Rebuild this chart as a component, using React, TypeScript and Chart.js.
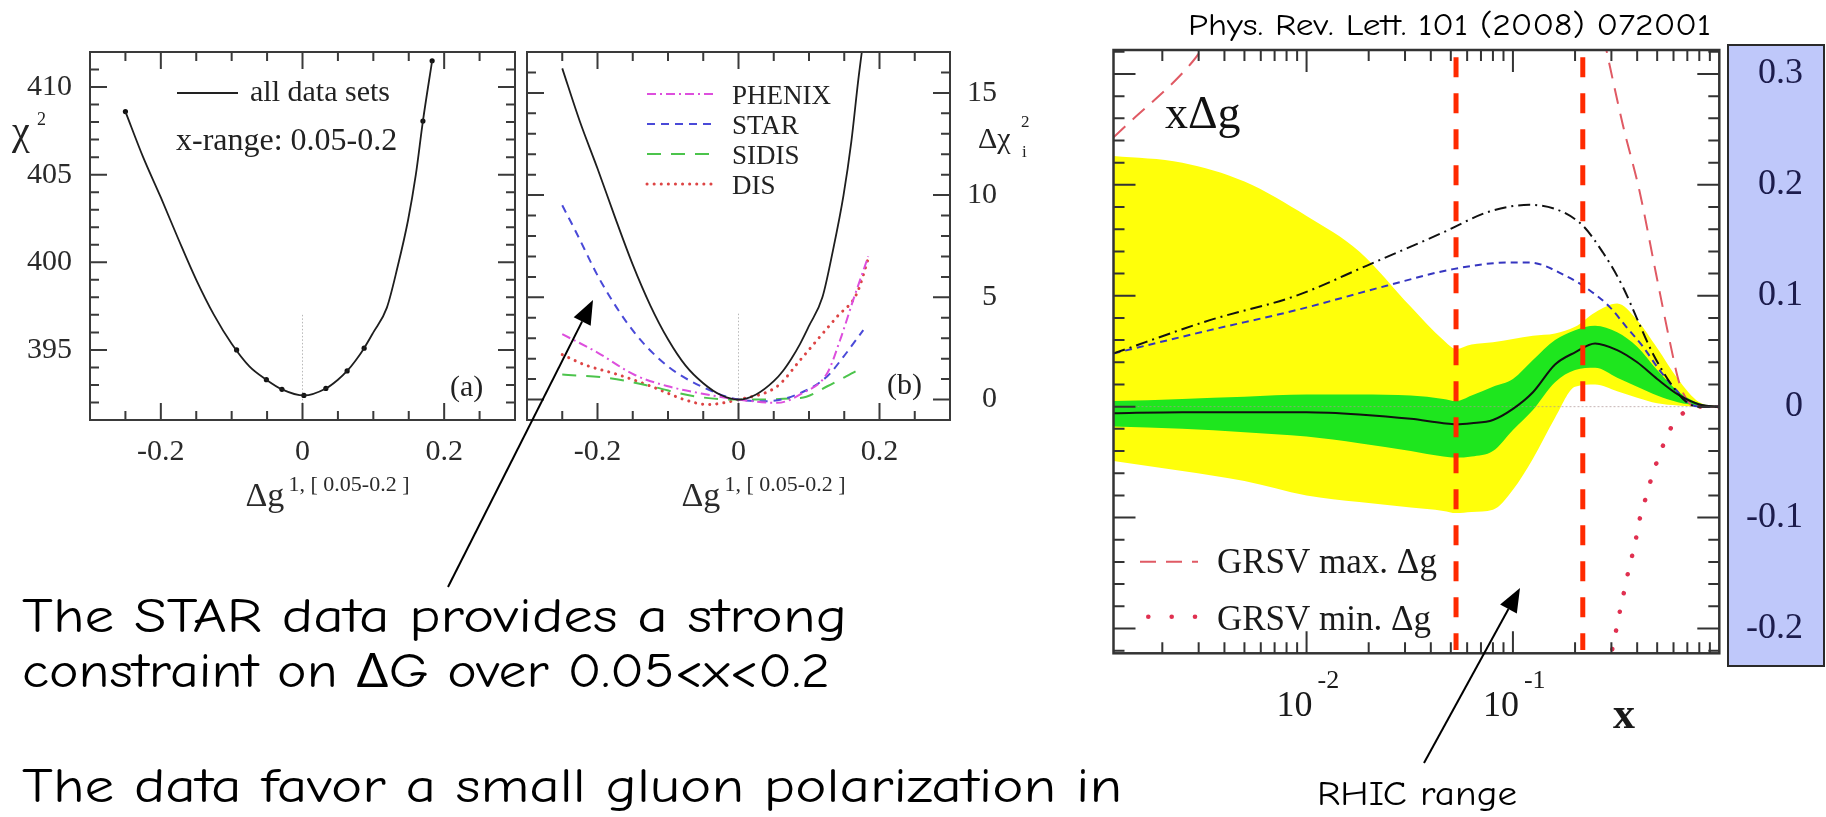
import React, { useEffect, useMemo, useRef } from 'react';
import { Chart, registerables } from 'chart.js';

Chart.register(...registerables);

const SERIF = '"Liberation Serif", "Times New Roman", "DejaVu Serif", serif';
const HAND = '"Comic Sans MS", "Comic Neue", "Open Sans", "Noto Sans", sans-serif';

// ---------------- Panel (a): chi^2 profile, all data sets ----------------
const dgA = [-0.25, -0.225, -0.2, -0.175, -0.15, -0.125, -0.1, -0.075, -0.051, -0.029, 0.002, 0.033, 0.05, 0.063, 0.075, 0.087, 0.1, 0.119, 0.134, 0.149, 0.16, 0.17, 0.183];
const chi2A = [408.6, 406.0, 403.7, 401.3, 399.0, 397.0, 395.35, 394.06, 393.3, 392.75, 392.4, 392.8, 393.3, 393.8, 394.4, 395.1, 396.0, 397.4, 399.7, 402.4, 405.0, 408.06, 411.5];
const dgDotA = [-0.25, -0.093, -0.051, -0.029, 0.002, 0.033, 0.063, 0.087, 0.17, 0.183];
const chi2DotA = [408.6, 395.0, 393.3, 392.75, 392.4, 392.8, 393.8, 395.1, 408.06, 411.5];
const zeroMarkA = [397, 391];
const xTickLabelsAB = [-0.2, 0, 0.2];
const xMinorAB = [-0.25, -0.15, -0.1, -0.05, 0.05, 0.1, 0.15, 0.25];
const yTickLabelsA = [395, 400, 405, 410];
const yMinorA = [392, 393, 394, 396, 397, 398, 399, 401, 402, 403, 404, 406, 407, 408, 409, 411];

// ---------------- Panel (b): delta chi^2 per data set ----------------
const dgAllB = [-0.25, -0.225, -0.2, -0.175, -0.15, -0.125, -0.1, -0.075, -0.05, -0.025, 0, 0.025, 0.05, 0.063, 0.075, 0.087, 0.1, 0.119, 0.134, 0.149, 0.16, 0.17, 0.183];
const chiAllB = [16.2, 13.6, 11.3, 8.9, 6.6, 4.6, 2.95, 1.66, 0.8, 0.22, 0, 0.25, 0.9, 1.4, 2.0, 2.7, 3.6, 5.0, 7.3, 10.0, 12.6, 15.66, 19.1];
const dgPhenix = [-0.25, -0.2, -0.147, -0.1, -0.053, 0, 0.055, 0.09, 0.126, 0.144, 0.163, 0.184];
const chiPhenix = [3.2, 2.3, 1.2, 0.65, 0.3, 0, -0.16, 0.3, 1.3, 2.9, 4.9, 7.0];
const dgStar = [-0.25, -0.232, -0.194, -0.147, -0.1, -0.053, 0, 0.041, 0.088, 0.126, 0.149, 0.177];
const chiStar = [9.5, 8.3, 5.7, 3.25, 1.62, 0.65, 0, -0.08, 0.32, 1.14, 2.1, 3.4];
const dgSidis = [-0.25, -0.185, -0.124, -0.063, 0, 0.088, 0.126, 0.166];
const chiSidis = [1.22, 1.06, 0.65, 0.16, 0, 0.08, 0.65, 1.38];
const dgDis = [-0.25, -0.218, -0.171, -0.124, -0.077, -0.044, 0, 0.055, 0.088, 0.112, 0.14, 0.168, 0.185];
const chiDis = [2.2, 1.7, 1.22, 0.65, 0.0, -0.24, 0, 0.65, 1.95, 2.93, 4.06, 5.2, 7.0];
const zeroMarkB = [4.2, -1];
const legendB = ['PHENIX', 'STAR', 'SIDIS', 'DIS'];
const yTickLabelsB = [0, 5, 10, 15];
const yMinorB = [1, 2, 3, 4, 6, 7, 8, 9, 11, 12, 13, 14, 16];

// ---------------- Right panel: x*Delta g(x) ----------------
const bandX = [0.00116, 0.0025, 0.005, 0.01, 0.018, 0.032, 0.046, 0.053, 0.063, 0.08, 0.1, 0.125, 0.16, 0.2, 0.25, 0.32, 0.4, 0.5, 0.63, 0.8, 1.0];
const yellowUp = [0.226, 0.220, 0.203, 0.172, 0.140, 0.090, 0.060, 0.052, 0.056, 0.058, 0.061, 0.064, 0.066, 0.072, 0.085, 0.093, 0.078, 0.053, 0.025, 0.004, 0.0];
const yellowLo = [-0.049, -0.058, -0.067, -0.080, -0.086, -0.091, -0.094, -0.096, -0.095, -0.093, -0.075, -0.047, -0.010, 0.018, 0.020, 0.014, 0.008, 0.003, 0.001, 0.0, 0.0];
const greenUp = [0.005, 0.007, 0.009, 0.011, 0.011, 0.010, 0.007, 0.005, 0.010, 0.018, 0.025, 0.042, 0.060, 0.069, 0.073, 0.067, 0.054, 0.033, 0.014, 0.003, 0.0];
const greenLo = [-0.018, -0.020, -0.023, -0.027, -0.033, -0.040, -0.045, -0.046, -0.045, -0.040, -0.021, -0.003, 0.022, 0.033, 0.035, 0.026, 0.018, 0.010, 0.004, 0.001, 0.0];
const centralFit = [-0.006, -0.005, -0.005, -0.005, -0.007, -0.011, -0.015, -0.016, -0.015, -0.012, -0.002, 0.013, 0.038, 0.049, 0.057, 0.051, 0.040, 0.025, 0.011, 0.002, 0.0];
const stdX = [0.00116, 0.0034, 0.0089, 0.0195, 0.0458, 0.077, 0.12, 0.21, 0.273, 0.341, 0.40, 0.476, 0.596, 0.69, 0.79, 1.0];
const stdY = [0.048, 0.078, 0.100, 0.127, 0.157, 0.176, 0.182, 0.166, 0.139, 0.108, 0.079, 0.048, 0.018, 0.0045, 0.0, 0.0];
const blueX = [0.00116, 0.0034, 0.0089, 0.0244, 0.0513, 0.0964, 0.12, 0.18, 0.235, 0.294, 0.354, 0.427, 0.513, 0.618, 0.71, 0.83, 1.0];
const blueY = [0.048, 0.069, 0.087, 0.109, 0.124, 0.130, 0.130, 0.118, 0.105, 0.090, 0.072, 0.054, 0.033, 0.015, 0.003, 0.0, 0.0];
const grsvMaxX = [0.00116, 0.00132, 0.0028, 0.0034, 0.05, 0.275, 0.341, 0.411, 0.494, 0.574, 0.641, 0.718, 0.78, 1.0];
const grsvMaxY = [0.243, 0.2526, 0.311, 0.333, null, 0.333, 0.254, 0.194, 0.1196, 0.0598, 0.021, 0.003, 0.0, 0.0];
const grsvMinX = [1.0, 0.85, 0.72, 0.641, 0.564, 0.524, 0.485, 0.456, 0.43, 0.407, 0.392, 0.374, 0.356, 0.341, 0.326, 0.313, 0.30, 0.29];
const grsvMinY = [0.0, 0.0, -0.002, -0.009, -0.024, -0.039, -0.056, -0.072, -0.089, -0.105, -0.122, -0.138, -0.155, -0.172, -0.189, -0.206, -0.223, -0.24];
const rhicX = [0.053, 0.218];
const rhicSpanY = [0.315, -0.2194];
const zeroX = [0.00116, 1.0];
const xMajorC = [0.01, 0.1];
const xExpC = ['-2', '-1'];
const xMinorC = [0.002, 0.003, 0.004, 0.005, 0.006, 0.007, 0.008, 0.009, 0.02, 0.03, 0.04, 0.05, 0.06, 0.07, 0.08, 0.09, 0.2, 0.3, 0.4, 0.5, 0.6, 0.7, 0.8, 0.9];
const yTickLabelsC = [-0.2, -0.1, 0, 0.1, 0.2, 0.3];
const yMinorC = [-0.22, -0.18, -0.16, -0.14, -0.12, -0.08, -0.06, -0.04, -0.02, 0.02, 0.04, 0.06, 0.08, 0.12, 0.14, 0.16, 0.18, 0.22, 0.24, 0.26, 0.28, 0.32];
const legendC = ['GRSV max. Δg', 'GRSV min. Δg'];

// ---------------- slide text ----------------
const TITLE = 'Phys. Rev. Lett. 101 (2008) 072001';
const LINE1 = 'The STAR data provides a strong';
const LINE2 = 'constraint on ΔG over 0.05<x<0.2';
const LINE3 = 'The data favor a small gluon polarization in';
const RHIC = 'RHIC range';

const pts = (xs: number[], ys: (number | null)[]) => xs.map((x, i) => ({ x, y: ys[i] }));
const fmt = (v: any) => (Number(v) === 0 ? '0' : String(v));

function framePlugin(cfg: any) {
  return {
    id: 'frameTicks',
    afterDatasetsDraw(chart: any) {
      const { ctx, chartArea: a } = chart;
      const xs = chart.scales.x;
      const ys = chart.scales.y;
      ctx.save();
      ctx.setLineDash([]);
      ctx.strokeStyle = cfg.color;
      ctx.lineWidth = cfg.tickWidth;
      ctx.beginPath();
      const xt = (vals: number[], len: number) =>
        vals.forEach((v) => {
          const p = xs.getPixelForValue(v);
          ctx.moveTo(p, a.bottom);
          ctx.lineTo(p, a.bottom - len);
          ctx.moveTo(p, a.top);
          ctx.lineTo(p, a.top + len);
        });
      const yt = (vals: number[], len: number) =>
        vals.forEach((v) => {
          const p = ys.getPixelForValue(v);
          ctx.moveTo(a.left, p);
          ctx.lineTo(a.left + len, p);
          ctx.moveTo(a.right, p);
          ctx.lineTo(a.right - len, p);
        });
      xt(cfg.xMinor, cfg.minorLen);
      xt(cfg.xMajor, cfg.majorLen);
      yt(cfg.yMinor, cfg.minorLen);
      yt(cfg.yMajor, cfg.majorLen);
      ctx.stroke();
      ctx.lineWidth = cfg.frameWidth;
      ctx.strokeRect(a.left, a.top, a.right - a.left, a.bottom - a.top);
      ctx.restore();
    },
  };
}

function textPlugin(draw: (ctx: CanvasRenderingContext2D, chart: any) => void) {
  return {
    id: 'slideTexts',
    afterDraw(chart: any) {
      const ctx = chart.ctx;
      ctx.save();
      ctx.textBaseline = 'alphabetic';
      draw(ctx, chart);
      ctx.restore();
    },
  };
}

function axisTitleDg(ctx: CanvasRenderingContext2D, x: number, y: number) {
  ctx.fillStyle = '#2a2a2a';
  ctx.textAlign = 'left';
  ctx.font = `34px ${SERIF}`;
  ctx.fillText('Δg', x, y);
  ctx.font = `22px ${SERIF}`;
  ctx.fillText('1, [ 0.05-0.2 ]', x + 43, y - 15);
}

const baseOptions = {
  responsive: false,
  animation: false as const,
  devicePixelRatio: 1,
  events: [] as any[],
};

function linearTickX(fontSize: number) {
  return {
    type: 'linear',
    min: -0.3,
    max: 0.3,
    grid: { display: false, drawTicks: false },
    border: { display: false },
    afterBuildTicks: (s: any) => {
      s.ticks = xTickLabelsAB.map((v) => ({ value: v }));
    },
    afterFit: (s: any) => {
      s.height = 110;
    },
    ticks: {
      autoSkip: false,
      maxRotation: 0,
      padding: 14,
      color: '#2a2a2a',
      font: { family: SERIF, size: fontSize },
      callback: fmt,
    },
  };
}

function buildA(canvas: HTMLCanvasElement) {
  return new Chart(canvas, {
    type: 'line',
    data: {
      datasets: [
        { data: pts(dgA, chi2A), borderColor: '#1e1e1e', borderWidth: 1.8, pointRadius: 0, cubicInterpolationMode: 'monotone', fill: false },
        { data: pts(dgDotA, chi2DotA), showLine: false, pointRadius: 2.6, pointBackgroundColor: '#111', pointBorderWidth: 0 },
        { data: pts([0, 0], zeroMarkA), borderColor: '#b8b8b8', borderWidth: 1, borderDash: [1.5, 2], pointRadius: 0 },
      ],
    },
    options: {
      ...baseOptions,
      layout: { padding: { left: 0, top: 52, right: 10, bottom: 0 } },
      plugins: { legend: { display: false }, tooltip: { enabled: false } },
      scales: {
        x: linearTickX(30),
        y: {
          type: 'linear',
          position: 'left',
          min: 391,
          max: 412,
          grid: { display: false, drawTicks: false },
          border: { display: false },
          afterBuildTicks: (s: any) => {
            s.ticks = yTickLabelsA.map((v) => ({ value: v }));
          },
          afterFit: (s: any) => {
            s.width = 90;
          },
          ticks: { padding: 18, color: '#2a2a2a', font: { family: SERIF, size: 30 }, callback: fmt },
        },
      },
    } as any,
    plugins: [
      framePlugin({ color: '#3a3a3a', tickWidth: 2, frameWidth: 2, majorLen: 17, minorLen: 9, xMajor: xTickLabelsAB, xMinor: xMinorAB, yMajor: yTickLabelsA, yMinor: yMinorA }),
      textPlugin((ctx, chart) => {
        ctx.fillStyle = '#222';
        ctx.font = `40px ${SERIF}`;
        ctx.fillText('χ', 12, 144);
        ctx.font = `18px ${SERIF}`;
        ctx.fillText('2', 37, 125);
        ctx.strokeStyle = '#222';
        ctx.lineWidth = 1.8;
        ctx.beginPath();
        ctx.moveTo(177, 93);
        ctx.lineTo(238, 93);
        ctx.stroke();
        ctx.font = `30px ${SERIF}`;
        ctx.fillText('all data sets', 250, 101);
        ctx.font = `32px ${SERIF}`;
        ctx.fillText('x-range: 0.05-0.2', 176, 150);
        ctx.font = `30px ${SERIF}`;
        ctx.fillText('(a)', 450, 396);
        axisTitleDg(ctx, chart.scales.x.getPixelForValue(0) - 57, 506);
      }),
    ],
  });
}

const styleB = [
  { color: '#dd4fdd', dash: [9, 4, 2, 4], width: 2, cap: 'butt' },
  { color: '#4a4ad8', dash: [8, 6], width: 2, cap: 'butt' },
  { color: '#4cc44c', dash: [14, 10], width: 2, cap: 'butt' },
  { color: '#dd4444', dash: [0.1, 7], width: 3, cap: 'round' },
];

function buildB(canvas: HTMLCanvasElement) {
  const series = [pts(dgPhenix, chiPhenix), pts(dgStar, chiStar), pts(dgSidis, chiSidis), pts(dgDis, chiDis)];
  return new Chart(canvas, {
    type: 'line',
    data: {
      datasets: [
        { data: pts(dgAllB, chiAllB), borderColor: '#1e1e1e', borderWidth: 1.8, pointRadius: 0, cubicInterpolationMode: 'monotone' },
        ...series.map((d, i) => ({
          data: d,
          borderColor: styleB[i].color,
          borderWidth: styleB[i].width,
          borderDash: styleB[i].dash,
          borderCapStyle: styleB[i].cap,
          pointRadius: 0,
          cubicInterpolationMode: 'monotone',
        })),
        { data: pts([0, 0], zeroMarkB), borderColor: '#b8b8b8', borderWidth: 1, borderDash: [1.5, 2], pointRadius: 0 },
      ],
    },
    options: {
      ...baseOptions,
      layout: { padding: { left: 7, top: 52, right: 53, bottom: 0 } },
      plugins: { legend: { display: false }, tooltip: { enabled: false } },
      scales: {
        x: linearTickX(30),
        y: {
          type: 'linear',
          position: 'right',
          min: -1,
          max: 17,
          grid: { display: false, drawTicks: false },
          border: { display: false },
          afterBuildTicks: (s: any) => {
            s.ticks = yTickLabelsB.map((v) => ({ value: v }));
          },
          afterFit: (s: any) => {
            s.width = 47;
          },
          ticks: { padding: 17, crossAlign: 'far', color: '#2a2a2a', font: { family: SERIF, size: 30 }, callback: fmt },
        },
      },
    } as any,
    plugins: [
      framePlugin({ color: '#3a3a3a', tickWidth: 2, frameWidth: 2, majorLen: 17, minorLen: 9, xMajor: xTickLabelsAB, xMinor: xMinorAB, yMajor: yTickLabelsB, yMinor: yMinorB }),
      textPlugin((ctx, chart) => {
        legendB.forEach((name, i) => {
          const base = 103.5 + 30 * i;
          const st = styleB[i];
          ctx.strokeStyle = st.color;
          ctx.lineWidth = st.width;
          ctx.lineCap = st.cap as CanvasLineCap;
          ctx.setLineDash(st.dash);
          ctx.beginPath();
          ctx.moveTo(127, base - 9.5);
          ctx.lineTo(197, base - 9.5);
          ctx.stroke();
          ctx.setLineDash([]);
          ctx.fillStyle = '#222';
          ctx.font = `27px ${SERIF}`;
          ctx.fillText(name, 212, base);
        });
        ctx.fillStyle = '#222';
        ctx.font = `30px ${SERIF}`;
        ctx.fillText('(b)', 367, 394);
        ctx.font = `30px ${SERIF}`;
        ctx.fillText('Δχ', 458, 148);
        ctx.font = `17px ${SERIF}`;
        ctx.fillText('2', 501, 127);
        ctx.fillText('i', 502, 157);
        axisTitleDg(ctx, chart.scales.x.getPixelForValue(0) - 57, 506);
      }),
    ],
  });
}

function buildC(canvas: HTMLCanvasElement) {
  const line = (data: any, color: string, width: number, dash: number[], extra: any = {}) => ({
    data,
    borderColor: color,
    borderWidth: width,
    borderDash: dash,
    pointRadius: 0,
    cubicInterpolationMode: 'monotone',
    fill: false,
    order: 5,
    ...extra,
  });
  return new Chart(canvas, {
    type: 'line',
    data: {
      datasets: [
        { data: pts(bandX, yellowUp), borderWidth: 0, borderColor: 'transparent', backgroundColor: '#ffff0a', fill: '+1', pointRadius: 0, cubicInterpolationMode: 'monotone', order: 10 },
        { data: pts(bandX, yellowLo), borderWidth: 0, borderColor: 'transparent', pointRadius: 0, fill: false, cubicInterpolationMode: 'monotone', order: 10 },
        { data: pts(bandX, greenUp), borderWidth: 0, borderColor: 'transparent', backgroundColor: '#1ee61e', fill: '+1', pointRadius: 0, cubicInterpolationMode: 'monotone', order: 9 },
        { data: pts(bandX, greenLo), borderWidth: 0, borderColor: 'transparent', pointRadius: 0, fill: false, cubicInterpolationMode: 'monotone', order: 9 },
        line(pts(zeroX, [0, 0]), 'rgba(175,150,150,0.7)', 1, [2, 2], { order: 8 }),
        line(pts(bandX, centralFit), '#111', 2, []),
        line(pts(stdX, stdY), '#111', 2, [12, 5, 2, 5]),
        line(pts(blueX, blueY), '#3535c0', 2, [7, 5]),
        line(pts(grsvMaxX, grsvMaxY), '#e05a64', 2, [16, 10], { spanGaps: false }),
        line(pts(grsvMinX, grsvMinY), '#e03050', 4.5, [0.1, 19], { borderCapStyle: 'round' }),
        ...rhicX.map((xv) => line(pts([xv, xv], rhicSpanY), '#ff2a00', 5, [20, 16], { order: 1, cubicInterpolationMode: 'default', tension: 0 })),
      ],
    },
    options: {
      ...baseOptions,
      layout: { padding: { left: 13.5, top: 50, right: 23, bottom: 163.7 } },
      plugins: { legend: { display: false }, tooltip: { enabled: false } },
      scales: {
        x: { type: 'logarithmic', min: 0.00116, max: 1, display: false },
        y: {
          type: 'linear',
          position: 'right',
          min: -0.2224,
          max: 0.3216,
          grid: { display: false, drawTicks: false },
          border: { display: false },
          afterBuildTicks: (s: any) => {
            s.ticks = yTickLabelsC.map((v) => ({ value: v }));
          },
          afterFit: (s: any) => {
            s.width = 83.7;
          },
          ticks: { padding: 20, crossAlign: 'far', color: '#1c1c4c', font: { family: SERIF, size: 36 }, callback: fmt },
        },
      },
    } as any,
    plugins: [
      framePlugin({ color: '#333', tickWidth: 2, frameWidth: 2.5, majorLen: 22, minorLen: 11, xMajor: xMajorC, xMinor: xMinorC, yMajor: yTickLabelsC, yMinor: yMinorC }),
      textPlugin((ctx, chart) => {
        ctx.fillStyle = '#111';
        ctx.font = `46px ${SERIF}`;
        ctx.fillText('xΔg', 65, 128);
        // legend
        ctx.strokeStyle = '#e05a64';
        ctx.lineWidth = 2;
        ctx.setLineDash([16, 10]);
        ctx.beginPath();
        ctx.moveTo(40, 561.7);
        ctx.lineTo(98, 561.7);
        ctx.stroke();
        ctx.setLineDash([]);
        ctx.fillStyle = '#e03050';
        [48.3, 71.7, 95].forEach((x) => {
          ctx.beginPath();
          ctx.arc(x, 616.7, 2.3, 0, Math.PI * 2);
          ctx.fill();
        });
        ctx.fillStyle = '#1a1a1a';
        ctx.font = `35px ${SERIF}`;
        ctx.fillText(legendC[0], 117, 573);
        ctx.fillText(legendC[1], 117, 630);
        // log-axis labels
        const xs = chart.scales.x;
        xMajorC.forEach((v, i) => {
          const p = xs.getPixelForValue(v);
          ctx.textAlign = 'right';
          ctx.font = `36px ${SERIF}`;
          ctx.fillText('10', p + 6, 716);
          ctx.textAlign = 'left';
          ctx.font = `26px ${SERIF}`;
          ctx.fillText(xExpC[i], p + 11, 688);
        });
        ctx.textAlign = 'left';
        ctx.font = `bold 44px ${SERIF}`;
        ctx.fillText('x', 513, 728);
      }),
    ],
  });
}

function arrowPts(x1: number, y1: number, x2: number, y2: number, len = 24, hw = 9.5) {
  const dx = x2 - x1;
  const dy = y2 - y1;
  const L = Math.hypot(dx, dy);
  const ux = dx / L;
  const uy = dy / L;
  const bx = x2 - ux * len;
  const by = y2 - uy * len;
  return {
    bx,
    by,
    poly: `${x2},${y2} ${bx + uy * hw},${by - ux * hw} ${bx - uy * hw},${by + ux * hw}`,
  };
}

function ChartCanvas({ build, left, top, width, height }: any) {
  const ref = useRef<HTMLCanvasElement>(null);
  useEffect(() => {
    const c = build(ref.current);
    return () => c.destroy();
  }, []);
  return (
    <canvas
      ref={ref}
      width={width}
      height={height}
      style={{ position: 'absolute', left, top, width, height }}
    />
  );
}

export default function App() {
  useEffect(() => {
    document.body.style.margin = '0';
    document.body.style.overflow = 'hidden';
  }, []);

  const line3Len = useMemo(() => {
    const c = document.createElement('canvas').getContext('2d');
    if (!c) return 1150;
    c.font = `48px ${HAND}`;
    const w1 = c.measureText(LINE1).width;
    const w3 = c.measureText(LINE3).width;
    return (825 * w3) / w1;
  }, []);

  const a1 = arrowPts(448, 587, 593, 300);
  const a2 = arrowPts(1424, 763, 1520, 588);

  return (
    <div style={{ position: 'absolute', left: 0, top: 0, width: 1826, height: 817, background: '#fff', overflow: 'hidden' }}>
      <div
        style={{
          position: 'absolute',
          left: 1727,
          top: 44,
          width: 98,
          height: 623,
          boxSizing: 'border-box',
          border: '2px solid #2a2a2a',
          background: '#bfc8fa',
        }}
      />
      <ChartCanvas build={buildA} left={0} top={0} width={525} height={530} />
      <ChartCanvas build={buildB} left={520} top={0} width={530} height={530} />
      <ChartCanvas build={buildC} left={1100} top={0} width={726} height={817} />
      <svg width={1826} height={817} style={{ position: 'absolute', left: 0, top: 0, pointerEvents: 'none' }}>
        <g fontFamily={HAND} fill="#000">
          <text x={1188} y={35} fontSize={31} textLength={523} lengthAdjust="spacingAndGlyphs">{TITLE}</text>
          <text x={22} y={632} fontSize={48} textLength={825} lengthAdjust="spacingAndGlyphs">{LINE1}</text>
          <text x={22} y={687} fontSize={48} textLength={808} lengthAdjust="spacingAndGlyphs">{LINE2}</text>
          <text x={22} y={802} fontSize={48} textLength={line3Len} lengthAdjust="spacingAndGlyphs">{LINE3}</text>
          <text x={1317} y={805} fontSize={34} textLength={200} lengthAdjust="spacingAndGlyphs">{RHIC}</text>
        </g>
        <line x1={448} y1={587} x2={a1.bx} y2={a1.by} stroke="#000" strokeWidth={2} />
        <polygon points={a1.poly} fill="#000" />
        <line x1={1424} y1={763} x2={a2.bx} y2={a2.by} stroke="#000" strokeWidth={2} />
        <polygon points={a2.poly} fill="#000" />
      </svg>
    </div>
  );
}
